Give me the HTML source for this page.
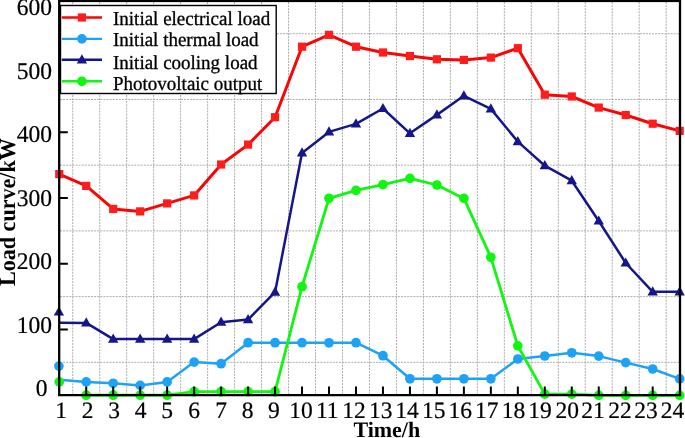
<!DOCTYPE html><html><head><meta charset="utf-8"><style>html,body{margin:0;padding:0;background:#fff;}svg{display:block;will-change:transform;}text{font-family:"Liberation Serif",serif;text-rendering:geometricPrecision;}</style></head><body>
<svg width="685" height="438" viewBox="0 0 685 438">
<rect width="685" height="438" fill="#fff"/>
<path d="M72.74 2V394 M99.71 2V394 M126.69 2V394 M153.66 2V394 M180.64 2V394 M207.61 2V394 M234.59 2V394 M261.56 2V394 M288.54 2V394 M315.51 2V394 M342.49 2V394 M369.46 2V394 M396.44 2V394 M423.41 2V394 M450.39 2V394 M477.36 2V394 M504.34 2V394 M531.31 2V394 M558.29 2V394 M585.26 2V394 M612.24 2V394 M639.21 2V394 M666.19 2V394 M60 362.34H679 M60 296.62H679 M60 230.90H679 M60 165.18H679 M60 99.46H679 M60 33.74H679" stroke="#acacac" stroke-width="1" stroke-dasharray="2 1.1" fill="none"/>
<polyline points="59.25,174.10 86.22,185.90 113.20,208.90 140.18,211.40 167.15,203.40 194.12,195.40 221.10,164.50 248.08,144.60 275.05,117.20 302.02,46.70 329.00,34.85 355.98,46.70 382.95,52.50 409.93,56.00 436.90,59.30 463.88,59.90 490.85,57.60 517.83,48.20 544.80,94.70 571.77,96.50 598.75,107.60 625.73,115.00 652.70,123.70 679.68,130.90" fill="none" stroke="#f80606" stroke-width="3.0" stroke-linejoin="round"/>
<polyline points="59.25,322.80 86.22,322.90 113.20,339.10 140.18,339.10 167.15,339.10 194.12,339.10 221.10,322.20 248.08,319.60 275.05,292.20 302.02,152.90 329.00,131.90 355.98,123.90 382.95,108.50 409.93,133.30 436.90,114.90 463.88,95.80 490.85,108.90 517.83,141.60 544.80,165.70 571.77,180.70 598.75,221.00 625.73,263.00 652.70,291.80 679.68,291.80" fill="none" stroke="#16168c" stroke-width="2.5" stroke-linejoin="round"/>
<polyline points="59.25,379.70 86.22,381.90 113.20,383.30 140.18,385.40 167.15,381.90 194.12,362.10 221.10,363.70 248.08,342.70 275.05,342.70 302.02,342.70 329.00,342.80 355.98,342.70 382.95,355.70 409.93,378.80 436.90,378.80 463.88,378.80 490.85,378.80 517.83,359.00 544.80,356.00 571.77,352.80 598.75,356.10 625.73,362.60 652.70,369.00 679.68,378.90" fill="none" stroke="#1ea2f6" stroke-width="2.5" stroke-linejoin="round"/>
<polyline points="86.22,395.20 113.20,395.20 140.18,395.20 167.15,395.20 194.12,391.70 221.10,391.70 248.08,391.70 275.05,391.70 302.02,286.70 329.00,198.30 355.98,190.40 382.95,184.60 409.93,178.40 436.90,185.00 463.88,198.40 490.85,257.30 517.83,345.90 544.80,394.10 571.77,394.10 598.75,395.40 625.73,395.40 652.70,395.40 679.68,395.40" fill="none" stroke="#10f610" stroke-width="2.8" stroke-linejoin="round"/>
<rect x="55.15" y="170.00" width="8.2" height="8.2" fill="#ff1c1c"/><rect x="82.12" y="181.80" width="8.2" height="8.2" fill="#ff1c1c"/><rect x="109.10" y="204.80" width="8.2" height="8.2" fill="#ff1c1c"/><rect x="136.08" y="207.30" width="8.2" height="8.2" fill="#ff1c1c"/><rect x="163.05" y="199.30" width="8.2" height="8.2" fill="#ff1c1c"/><rect x="190.03" y="191.30" width="8.2" height="8.2" fill="#ff1c1c"/><rect x="217.00" y="160.40" width="8.2" height="8.2" fill="#ff1c1c"/><rect x="243.98" y="140.50" width="8.2" height="8.2" fill="#ff1c1c"/><rect x="270.95" y="113.10" width="8.2" height="8.2" fill="#ff1c1c"/><rect x="297.92" y="42.60" width="8.2" height="8.2" fill="#ff1c1c"/><rect x="324.90" y="30.75" width="8.2" height="8.2" fill="#ff1c1c"/><rect x="351.88" y="42.60" width="8.2" height="8.2" fill="#ff1c1c"/><rect x="378.85" y="48.40" width="8.2" height="8.2" fill="#ff1c1c"/><rect x="405.82" y="51.90" width="8.2" height="8.2" fill="#ff1c1c"/><rect x="432.80" y="55.20" width="8.2" height="8.2" fill="#ff1c1c"/><rect x="459.77" y="55.80" width="8.2" height="8.2" fill="#ff1c1c"/><rect x="486.75" y="53.50" width="8.2" height="8.2" fill="#ff1c1c"/><rect x="513.73" y="44.10" width="8.2" height="8.2" fill="#ff1c1c"/><rect x="540.70" y="90.60" width="8.2" height="8.2" fill="#ff1c1c"/><rect x="567.67" y="92.40" width="8.2" height="8.2" fill="#ff1c1c"/><rect x="594.65" y="103.50" width="8.2" height="8.2" fill="#ff1c1c"/><rect x="621.62" y="110.90" width="8.2" height="8.2" fill="#ff1c1c"/><rect x="648.60" y="119.60" width="8.2" height="8.2" fill="#ff1c1c"/><rect x="675.58" y="126.80" width="8.2" height="8.2" fill="#ff1c1c"/>
<path d="M86.22 317.30L91.42 326.50L81.02 326.50Z" fill="#16168c"/><path d="M113.20 333.50L118.40 342.70L108.00 342.70Z" fill="#16168c"/><path d="M140.18 333.50L145.38 342.70L134.98 342.70Z" fill="#16168c"/><path d="M167.15 333.50L172.35 342.70L161.95 342.70Z" fill="#16168c"/><path d="M194.12 333.50L199.32 342.70L188.93 342.70Z" fill="#16168c"/><path d="M221.10 316.60L226.30 325.80L215.90 325.80Z" fill="#16168c"/><path d="M248.08 314.00L253.28 323.20L242.88 323.20Z" fill="#16168c"/><path d="M275.05 286.60L280.25 295.80L269.85 295.80Z" fill="#16168c"/><path d="M302.02 147.30L307.22 156.50L296.82 156.50Z" fill="#16168c"/><path d="M329.00 126.30L334.20 135.50L323.80 135.50Z" fill="#16168c"/><path d="M355.98 118.30L361.18 127.50L350.78 127.50Z" fill="#16168c"/><path d="M382.95 102.90L388.15 112.10L377.75 112.10Z" fill="#16168c"/><path d="M409.93 127.70L415.12 136.90L404.73 136.90Z" fill="#16168c"/><path d="M436.90 109.30L442.10 118.50L431.70 118.50Z" fill="#16168c"/><path d="M463.88 90.20L469.07 99.40L458.68 99.40Z" fill="#16168c"/><path d="M490.85 103.30L496.05 112.50L485.65 112.50Z" fill="#16168c"/><path d="M517.83 136.00L523.03 145.20L512.62 145.20Z" fill="#16168c"/><path d="M544.80 160.10L550.00 169.30L539.60 169.30Z" fill="#16168c"/><path d="M571.77 175.10L576.98 184.30L566.57 184.30Z" fill="#16168c"/><path d="M598.75 215.40L603.95 224.60L593.55 224.60Z" fill="#16168c"/><path d="M625.73 257.40L630.93 266.60L620.52 266.60Z" fill="#16168c"/><path d="M652.70 286.20L657.90 295.40L647.50 295.40Z" fill="#16168c"/><path d="M679.68 286.20L684.88 295.40L674.48 295.40Z" fill="#16168c"/><path d="M58.90 306.40L64.10 315.60L53.70 315.60Z" fill="#16168c"/>
<circle cx="86.22" cy="381.90" r="4.85" fill="#1ea2f6"/><circle cx="113.20" cy="383.30" r="4.85" fill="#1ea2f6"/><circle cx="140.18" cy="385.40" r="4.85" fill="#1ea2f6"/><circle cx="167.15" cy="381.90" r="4.85" fill="#1ea2f6"/><circle cx="194.12" cy="362.10" r="4.85" fill="#1ea2f6"/><circle cx="221.10" cy="363.70" r="4.85" fill="#1ea2f6"/><circle cx="248.08" cy="342.70" r="4.85" fill="#1ea2f6"/><circle cx="275.05" cy="342.70" r="4.85" fill="#1ea2f6"/><circle cx="302.02" cy="342.70" r="4.85" fill="#1ea2f6"/><circle cx="329.00" cy="342.80" r="4.85" fill="#1ea2f6"/><circle cx="355.98" cy="342.70" r="4.85" fill="#1ea2f6"/><circle cx="382.95" cy="355.70" r="4.85" fill="#1ea2f6"/><circle cx="409.93" cy="378.80" r="4.85" fill="#1ea2f6"/><circle cx="436.90" cy="378.80" r="4.85" fill="#1ea2f6"/><circle cx="463.88" cy="378.80" r="4.85" fill="#1ea2f6"/><circle cx="490.85" cy="378.80" r="4.85" fill="#1ea2f6"/><circle cx="517.83" cy="359.00" r="4.85" fill="#1ea2f6"/><circle cx="544.80" cy="356.00" r="4.85" fill="#1ea2f6"/><circle cx="571.77" cy="352.80" r="4.85" fill="#1ea2f6"/><circle cx="598.75" cy="356.10" r="4.85" fill="#1ea2f6"/><circle cx="625.73" cy="362.60" r="4.85" fill="#1ea2f6"/><circle cx="652.70" cy="369.00" r="4.85" fill="#1ea2f6"/><circle cx="679.68" cy="378.90" r="4.85" fill="#1ea2f6"/><circle cx="58.9" cy="366.1" r="4.85" fill="#1ea2f6"/>
<circle cx="59.25" cy="381.90" r="4.85" fill="#10f610"/><circle cx="86.22" cy="395.20" r="4.85" fill="#10f610"/><circle cx="113.20" cy="395.20" r="4.85" fill="#10f610"/><circle cx="140.18" cy="395.20" r="4.85" fill="#10f610"/><circle cx="167.15" cy="395.20" r="4.85" fill="#10f610"/><circle cx="194.12" cy="391.70" r="4.85" fill="#10f610"/><circle cx="221.10" cy="391.70" r="4.85" fill="#10f610"/><circle cx="248.08" cy="391.70" r="4.85" fill="#10f610"/><circle cx="275.05" cy="391.70" r="4.85" fill="#10f610"/><circle cx="302.02" cy="286.70" r="4.85" fill="#10f610"/><circle cx="329.00" cy="198.30" r="4.85" fill="#10f610"/><circle cx="355.98" cy="190.40" r="4.85" fill="#10f610"/><circle cx="382.95" cy="184.60" r="4.85" fill="#10f610"/><circle cx="409.93" cy="178.40" r="4.85" fill="#10f610"/><circle cx="436.90" cy="185.00" r="4.85" fill="#10f610"/><circle cx="463.88" cy="198.40" r="4.85" fill="#10f610"/><circle cx="490.85" cy="257.30" r="4.85" fill="#10f610"/><circle cx="517.83" cy="345.90" r="4.85" fill="#10f610"/><circle cx="544.80" cy="394.10" r="4.85" fill="#10f610"/><circle cx="571.77" cy="394.10" r="4.85" fill="#10f610"/><circle cx="598.75" cy="395.40" r="4.85" fill="#10f610"/><circle cx="625.73" cy="395.40" r="4.85" fill="#10f610"/><circle cx="652.70" cy="395.40" r="4.85" fill="#10f610"/><circle cx="679.68" cy="395.40" r="4.85" fill="#10f610"/>
<path d="M86.22 395V386.5 M113.20 395V386.5 M140.18 395V386.5 M167.15 395V386.5 M194.12 395V386.5 M221.10 395V386.5 M248.08 395V386.5 M275.05 395V386.5 M302.02 395V386.5 M329.00 395V386.5 M355.98 395V386.5 M382.95 395V386.5 M409.93 395V386.5 M436.90 395V386.5 M463.88 395V386.5 M490.85 395V386.5 M517.83 395V386.5 M544.80 395V386.5 M571.77 395V386.5 M598.75 395V386.5 M625.73 395V386.5 M652.70 395V386.5 M59 329.48H67.8 M59 263.76H67.8 M59 198.04H67.8 M59 132.32H67.8 M59 66.60H67.8" stroke="#000" stroke-width="2" fill="none"/>
<rect x="60.5" y="5.5" width="215.7" height="88.0" fill="#fff" stroke="#000" stroke-width="1.4"/>
<line x1="61.8" y1="17.5" x2="102" y2="17.5" stroke="#f80606" stroke-width="2.4"/>
<rect x="77.80000000000001" y="13.4" width="8.2" height="8.2" fill="#ff1c1c"/>
<text transform="translate(113.0 24.7) scale(1 1.04)" font-size="19" stroke="#000" stroke-width="0.3">Initial electrical load</text>
<line x1="61.8" y1="38.9" x2="102" y2="38.9" stroke="#1ea2f6" stroke-width="2.4"/>
<circle cx="81.9" cy="38.9" r="4.85" fill="#1ea2f6"/>
<text transform="translate(113.0 46.1) scale(1 1.04)" font-size="19" stroke="#000" stroke-width="0.3">Initial thermal load</text>
<line x1="61.8" y1="59.8" x2="102" y2="59.8" stroke="#16168c" stroke-width="2.4"/>
<path d="M81.90 54.20L87.10 63.40L76.70 63.40Z" fill="#16168c"/>
<text transform="translate(113.0 69.1) scale(1 1.04)" font-size="19" stroke="#000" stroke-width="0.3">Initial cooling load</text>
<line x1="61.8" y1="81.3" x2="102" y2="81.3" stroke="#10f610" stroke-width="2.4"/>
<circle cx="81.9" cy="81.3" r="4.85" fill="#10f610"/>
<text transform="translate(113.0 89.6) scale(1 1.04)" font-size="19" stroke="#000" stroke-width="0.3">Photovoltaic output</text>
<path d="M59.2 0V395.2H680.0V0" stroke="#000" stroke-width="2.3" fill="none"/>
<rect x="58" y="0" width="623" height="2.1" fill="#000"/>
<text transform="translate(52.1 15.0) scale(1 1.02)" font-size="23.5" text-anchor="end" stroke="#000" stroke-width="0.2">600</text>
<text transform="translate(52.1 79.0) scale(1 1.02)" font-size="23.5" text-anchor="end" stroke="#000" stroke-width="0.2">500</text>
<text transform="translate(52.1 142.1) scale(1 1.02)" font-size="23.5" text-anchor="end" stroke="#000" stroke-width="0.2">400</text>
<text transform="translate(52.1 205.5) scale(1 1.02)" font-size="23.5" text-anchor="end" stroke="#000" stroke-width="0.2">300</text>
<text transform="translate(52.1 269.2) scale(1 1.02)" font-size="23.5" text-anchor="end" stroke="#000" stroke-width="0.2">200</text>
<text transform="translate(52.1 332.8) scale(1 1.02)" font-size="23.5" text-anchor="end" stroke="#000" stroke-width="0.2">100</text>
<text transform="translate(47.4 396.0) scale(1 1.02)" font-size="23.5" text-anchor="end" stroke="#000" stroke-width="0.2">0</text>
<text transform="translate(61.0 417.6) scale(1 1)" font-size="23.5" text-anchor="middle" stroke="#000" stroke-width="0.2">1</text>
<text transform="translate(87.6 417.6) scale(1 1)" font-size="23.5" text-anchor="middle" stroke="#000" stroke-width="0.2">2</text>
<text transform="translate(114.0 417.6) scale(1 1)" font-size="23.5" text-anchor="middle" stroke="#000" stroke-width="0.2">3</text>
<text transform="translate(140.7 417.6) scale(1 1)" font-size="23.5" text-anchor="middle" stroke="#000" stroke-width="0.2">4</text>
<text transform="translate(167.0 417.6) scale(1 1)" font-size="23.5" text-anchor="middle" stroke="#000" stroke-width="0.2">5</text>
<text transform="translate(194.2 417.6) scale(1 1)" font-size="23.5" text-anchor="middle" stroke="#000" stroke-width="0.2">6</text>
<text transform="translate(221.2 417.6) scale(1 1)" font-size="23.5" text-anchor="middle" stroke="#000" stroke-width="0.2">7</text>
<text transform="translate(247.6 417.6) scale(1 1)" font-size="23.5" text-anchor="middle" stroke="#000" stroke-width="0.2">8</text>
<text transform="translate(273.8 417.6) scale(1 1)" font-size="23.5" text-anchor="middle" stroke="#000" stroke-width="0.2">9</text>
<text transform="translate(301.0 417.6) scale(1 1)" font-size="23.5" text-anchor="middle" stroke="#000" stroke-width="0.2">10</text>
<text transform="translate(327.3 417.6) scale(1 1)" font-size="23.5" text-anchor="middle" stroke="#000" stroke-width="0.2">11</text>
<text transform="translate(354.1 417.6) scale(1 1)" font-size="23.5" text-anchor="middle" stroke="#000" stroke-width="0.2">12</text>
<text transform="translate(380.7 417.6) scale(1 1)" font-size="23.5" text-anchor="middle" stroke="#000" stroke-width="0.2">13</text>
<text transform="translate(407.1 417.6) scale(1 1)" font-size="23.5" text-anchor="middle" stroke="#000" stroke-width="0.2">14</text>
<text transform="translate(433.7 417.6) scale(1 1)" font-size="23.5" text-anchor="middle" stroke="#000" stroke-width="0.2">15</text>
<text transform="translate(460.3 417.6) scale(1 1)" font-size="23.5" text-anchor="middle" stroke="#000" stroke-width="0.2">16</text>
<text transform="translate(486.7 417.6) scale(1 1)" font-size="23.5" text-anchor="middle" stroke="#000" stroke-width="0.2">17</text>
<text transform="translate(513.4 417.6) scale(1 1)" font-size="23.5" text-anchor="middle" stroke="#000" stroke-width="0.2">18</text>
<text transform="translate(540.0 417.6) scale(1 1)" font-size="23.5" text-anchor="middle" stroke="#000" stroke-width="0.2">19</text>
<text transform="translate(567.2 417.6) scale(1 1)" font-size="23.5" text-anchor="middle" stroke="#000" stroke-width="0.2">20</text>
<text transform="translate(592.9 417.6) scale(1 1)" font-size="23.5" text-anchor="middle" stroke="#000" stroke-width="0.2">21</text>
<text transform="translate(619.9 417.6) scale(1 1)" font-size="23.5" text-anchor="middle" stroke="#000" stroke-width="0.2">22</text>
<text transform="translate(645.9 417.6) scale(1 1)" font-size="23.5" text-anchor="middle" stroke="#000" stroke-width="0.2">23</text>
<text transform="translate(672.6 417.6) scale(1 1)" font-size="23.5" text-anchor="middle" stroke="#000" stroke-width="0.2">24</text>
<text x="386.8" y="437.4" font-size="22" font-weight="bold" text-anchor="middle">Time/h</text>
<text transform="translate(15.1 212.1) rotate(-90) scale(1.005 1.05)" font-size="22" font-weight="bold" text-anchor="middle">Load curve/kW</text>
</svg></body></html>
